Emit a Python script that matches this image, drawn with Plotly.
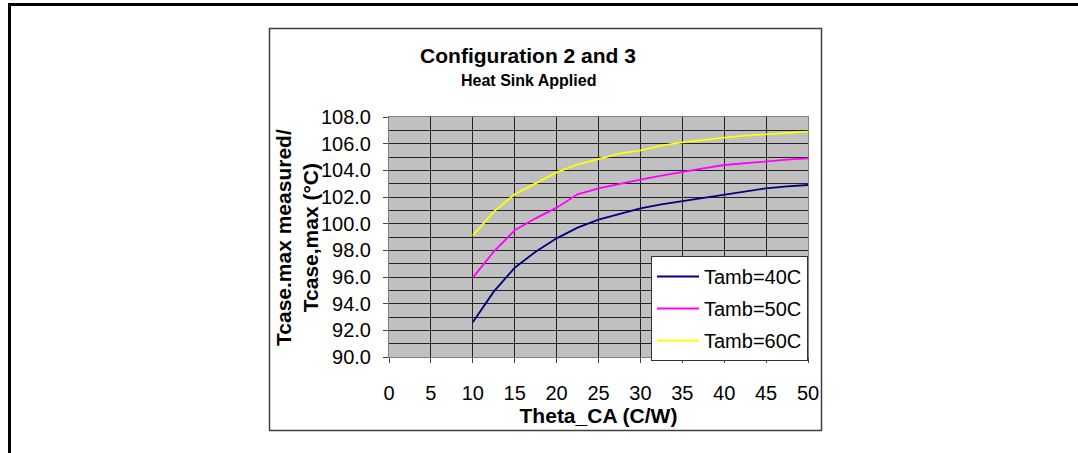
import plotly.graph_objects as go

theta_ca = [10, 12.5, 15, 17.5, 20, 22.5, 25, 27.5, 30, 32.5, 35, 37.5, 40, 42.5, 45, 47.5, 50]
tamb_40 = [92.6, 94.9, 96.7, 97.9, 98.9, 99.7, 100.3, 100.7, 101.15, 101.45, 101.7, 101.95, 102.15, 102.45, 102.65, 102.8, 102.9]
tamb_50 = [95.95, 97.9, 99.5, 100.4, 101.2, 102.2, 102.65, 103.0, 103.3, 103.6, 103.9, 104.15, 104.4, 104.55, 104.7, 104.8, 104.9]
tamb_60 = [99.1, 100.9, 102.2, 103.0, 103.85, 104.45, 104.85, 105.25, 105.5, 105.85, 106.1, 106.3, 106.45, 106.6, 106.7, 106.8, 106.9]
series_names = ["Tamb=40C", "Tamb=50C", "Tamb=60C"]
series_colors = ["#000080", "#FF00FF", "#FFFF00"]

W, H = 1078, 453
PL, PR, PT, PB = 389, 808, 117, 357  # plot area in px


def px_x(px):
    return (px - PL) / (PR - PL)


def px_y(py):
    return (PB - py) / (PB - PT)


fig = go.Figure()
for i, (name, ys) in enumerate(zip(series_names, [tamb_40, tamb_50, tamb_60])):
    fig.add_trace(go.Scatter(
        x=theta_ca, y=ys, mode="lines", name=name,
        line=dict(color=series_colors[i], width=1.8),
        legendgroup=name,
    ))

font_family = "Liberation Sans, Arial, sans-serif"

fig.update_layout(
    width=W, height=H,
    margin=dict(l=PL, r=W - PR, t=PT, b=H - PB, autoexpand=False),
    paper_bgcolor="white",
    plot_bgcolor="#C0C0C0",
    font=dict(family=font_family, color="black", size=20),
    showlegend=True,
    legend=dict(
        x=1, y=px_y(361), xanchor="right", yanchor="bottom",
        bgcolor="white", bordercolor="#333333", borderwidth=1,
        font=dict(size=20, family=font_family),
        traceorder="grouped", tracegroupgap=3,
        itemwidth=42,
    ),
    title=dict(
        text="<b>Configuration 2 and 3</b>",
        font=dict(size=21, family=font_family),
        x=528 / W, xref="container", xanchor="center",
        y=1 - 56 / H, yref="container", yanchor="middle",
    ),
    xaxis=dict(
        range=[0, 50], dtick=5, tick0=0,
        showgrid=True, gridcolor="#222222", gridwidth=1,
        ticks="outside", ticklen=5, tickcolor="#444444",
        showline=True, linecolor="#808080", linewidth=1, mirror=True,
        tickfont=dict(size=20), ticklabelstandoff=13,
        zeroline=False,
        title=dict(text="<b>Theta_CA (C/W)</b>", font=dict(size=21), standoff=0),
    ),
    yaxis=dict(
        range=[90, 108], dtick=2, tick0=90, tickformat=".1f",
        showgrid=True, gridcolor="#222222", gridwidth=1,
        minor=dict(dtick=1, showgrid=True, gridcolor="#222222", gridwidth=1),
        ticks="outside", ticklen=5, tickcolor="#444444",
        showline=True, linecolor="#808080", linewidth=1, mirror=True,
        tickfont=dict(size=20), ticklabelstandoff=8,
        zeroline=False,
    ),
    annotations=[
        dict(text="<b>Heat Sink Applied</b>", xref="paper", yref="paper",
             x=px_x(528), y=px_y(80), xanchor="center", yanchor="middle",
             showarrow=False, font=dict(size=16, family=font_family)),
        dict(text="<b>Tcase.max measured/<br>Tcase,max (°C)</b>", xref="paper", yref="paper",
             x=px_x(297), y=px_y(238), xanchor="center", yanchor="middle",
             textangle=-90, showarrow=False, font=dict(size=21, family=font_family)),
    ],
    shapes=[
        dict(type="rect", xref="paper", yref="paper",
             x0=px_x(269.5), x1=px_x(821.5), y0=px_y(28.5), y1=px_y(430.5),
             line=dict(color="#404040", width=1.5), layer="below"),
        dict(type="line", xref="paper", yref="paper",
             x0=px_x(9.5), x1=px_x(9.5), y0=px_y(3), y1=px_y(460),
             line=dict(color="black", width=3)),
        dict(type="line", xref="paper", yref="paper",
             x0=px_x(8), x1=px_x(1090), y0=px_y(4.5), y1=px_y(4.5),
             line=dict(color="black", width=3)),
    ],
)

fig.write_html(
    "out.html",
    config={"displayModeBar": False},
    post_script="document.body.style.margin='0';document.body.style.overflow='hidden';",
)
